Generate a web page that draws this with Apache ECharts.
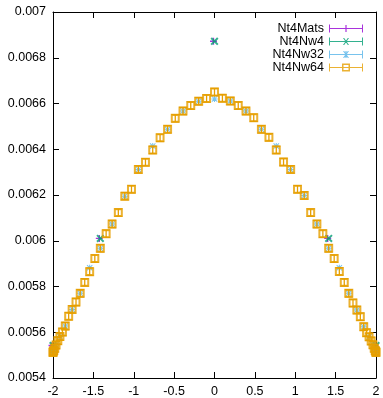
<!DOCTYPE html>
<html>
<head>
<meta charset="utf-8">
<script src="https://cdn.jsdelivr.net/npm/echarts@6/dist/echarts.min.js"></script>
<style>
  html, body { margin: 0; padding: 0; background: #fff; }
  #chart { width: 383px; height: 398px; }
</style>
</head>
<body>
<div id="chart"></div>
<script>
// momentum-like axis, -2 .. 2
const xNw64 = [
  -2.000, -1.998, -1.990, -1.978, -1.962, -1.940, -1.914, -1.883, -1.848, -1.806, -1.763,
  -1.715, -1.663, -1.607, -1.546, -1.482, -1.414, -1.342, -1.268, -1.191, -1.111, -1.028,
  -0.943, -0.855, -0.765, -0.674, -0.581, -0.486, -0.390, -0.294, -0.196, -0.098,
  0,
  0.098, 0.196, 0.294, 0.390, 0.486, 0.581, 0.674, 0.765, 0.855, 0.943, 1.028,
  1.111, 1.191, 1.268, 1.342, 1.414, 1.482, 1.546, 1.607, 1.663, 1.715, 1.763,
  1.806, 1.848, 1.883, 1.914, 1.940, 1.962, 1.978, 1.990, 1.998, 2.000
];
const yNw64 = [
  0.005512, 0.005515, 0.005520, 0.005530, 0.005544, 0.005563, 0.005581, 0.005601, 0.005627, 0.005670, 0.005700,
  0.005732, 0.005770, 0.005818, 0.005865, 0.005922, 0.005967, 0.006031, 0.006073, 0.006123, 0.006195, 0.006225,
  0.006312, 0.006343, 0.006397, 0.006450, 0.006487, 0.006535, 0.006567, 0.006591, 0.006610, 0.006622,
  0.006650,
  0.006623, 0.006611, 0.006591, 0.006567, 0.006538, 0.006487, 0.006452, 0.006397, 0.006344, 0.006312, 0.006225,
  0.006198, 0.006123, 0.006073, 0.006031, 0.005967, 0.005922, 0.005866, 0.005818, 0.005770, 0.005728, 0.005697,
  0.005668, 0.005624, 0.005598, 0.005580, 0.005562, 0.005545, 0.005530, 0.005520, 0.005515, 0.005512
];
const errNw64 = [
  0.000016, 0.000016, 0.000016, 0.000016, 0.000016, 0.000016, 0.000016, 0.000016, 0.000016, 0.000016, 0.000016,
  0.000016, 0.000016, 0.000016, 0.000016, 0.000016, 0.000016, 0.000016, 0.000016, 0.000016, 0.000016, 0.000016,
  0.000016, 0.000016, 0.000016, 0.000016, 0.000016, 0.000016, 0.000016, 0.000016, 0.000016, 0.000016,
  0.000016,
  0.000016, 0.000016, 0.000016, 0.000016, 0.000016, 0.000016, 0.000016, 0.000016, 0.000016, 0.000016, 0.000016,
  0.000016, 0.000016, 0.000016, 0.000016, 0.000016, 0.000016, 0.000016, 0.000016, 0.000016, 0.000016, 0.000016,
  0.000016, 0.000016, 0.000016, 0.000016, 0.000016, 0.000016, 0.000016, 0.000016, 0.000016, 0.000016
];

const xNw32 = [
  -2.000, -1.990, -1.962, -1.914, -1.848, -1.763, -1.663, -1.546, -1.414, -1.268, -1.111,
  -0.943, -0.765, -0.581, -0.390, -0.196, 0, 0.196, 0.390, 0.581, 0.765, 0.943,
  1.111, 1.268, 1.414, 1.546, 1.663, 1.763, 1.848, 1.914, 1.962, 1.990, 2.000
];
const yNw32 = [
  0.005512, 0.005520, 0.005544, 0.005581, 0.005627, 0.005700, 0.005770, 0.005882, 0.005967, 0.006073, 0.006195,
  0.006312, 0.006414, 0.006487, 0.006567, 0.006610, 0.006620, 0.006611, 0.006567, 0.006487, 0.006414, 0.006312,
  0.006198, 0.006073, 0.005967, 0.005882, 0.005770, 0.005697, 0.005624, 0.005580, 0.005545, 0.005520, 0.005512
];

const xNw4 = [-2.000, -1.414, 0, 1.414, 2.000];
const yNw4 = [0.005542, 0.006010, 0.006872, 0.006010, 0.005542];
const xMats = [-2.000, -1.414, 0, 1.414, 2.000];
const yMats = [0.005542, 0.006010, 0.006872, 0.006010, 0.005542];

const xTicks = [-2, -1.5, -1, -0.5, 0, 0.5, 1, 1.5, 2];
const yTicks = [0.0054, 0.0056, 0.0058, 0.006, 0.0062, 0.0064, 0.0066, 0.0068, 0.007];

const colors = {
  mats: "#9400d3",
  nw4: "#009e73",
  nw32: "#56b4e9",
  nw64: "#e69f00",
};

const FONT = "'Liberation Sans', Arial, sans-serif";

const pts = (xs, ys) => xs.map((x, i) => [x, ys[i]]);

// marker shapes
const plusPath = "path://M3 0h1.4v7.4h-1.4z M0 3h7.4v1.4h-7.4z";
const crossPath = "path://M0 1.4L1.4 0L8 6.6L6.6 8Z M6.6 0L8 1.4L1.4 8L0 6.6Z";
const starPath = "path://M3 0h1.2v7.2h-1.2z M0 3h7.2v1.2h-7.2z M0 0.8L0.8 0L7.2 6.4L6.4 7.2Z M6.4 0L7.2 0.8L0.8 7.2L0 6.4Z";
const squarePath = "path://M0 0h8v8h-8z M1.8 1.8v4.4h4.4v-4.4z";

// legend icons: errorbar line with caps and the marker in the middle
const barBase = "M0 0h1v8h-1z M33 0h1v8h-1z M0 3.5h34v1h-34z ";
const legendIcons = {
  Nt4Mats: "path://" + barBase + "M16.4 0.5h1.2v7h-1.2z",
  Nt4Nw4: "path://" + barBase + "M14 0.5L15.2 0.5L20 7.5L18.8 7.5Z M18.8 0.5L20 0.5L15.2 7.5L14 7.5Z",
  Nt4Nw32: "path://" + barBase + "M16.4 0.5h1.2v7h-1.2z M14 0.5L15.2 0.5L20 7.5L18.8 7.5Z M18.8 0.5L20 0.5L15.2 7.5L14 7.5Z",
  Nt4Nw64: "path://" + barBase + "M13 0h8v8h-8z M14.5 1.5v5h5v-5z",
};

const renderErr = (params, api) => {
  const x = api.value(0);
  const top = api.coord([x, api.value(2)]);
  const bot = api.coord([x, api.value(1)]);
  const w = 4;
  const style = { stroke: colors.nw64, lineWidth: 1.3 };
  return {
    type: "group",
    children: [
      { type: "line", shape: { x1: top[0], y1: top[1], x2: bot[0], y2: bot[1] }, style },
      { type: "line", shape: { x1: top[0] - w, y1: top[1], x2: top[0] + w, y2: top[1] }, style },
      { type: "line", shape: { x1: bot[0] - w, y1: bot[1], x2: bot[0] + w, y2: bot[1] }, style },
    ],
  };
};

const axisCommon = {
  type: "value",
  axisLine: { show: true, onZero: false, lineStyle: { color: "#000", width: 1 } },
  axisTick: { show: true, inside: true, length: 6, lineStyle: { color: "#000", width: 1 } },
  splitLine: { show: false },
};

const chart = echarts.init(document.getElementById("chart"), null, { renderer: "canvas" });

chart.setOption({
  animation: false,
  backgroundColor: "#fff",
  textStyle: { fontFamily: FONT },
  grid: { left: 53, right: 7, top: 12, bottom: 19, containLabel: false },
  legend: {
    orient: "vertical",
    align: "right",
    right: 20,
    top: 22,
    padding: 0,
    itemGap: 0,
    itemWidth: 34,
    itemHeight: 8,
    symbolKeepAspect: false,
    selectedMode: false,
    textStyle: { fontFamily: FONT, fontSize: 12.5, color: "#000" },
    data: [
      { name: "Nt4Mats", icon: legendIcons.Nt4Mats, itemStyle: { color: colors.mats, borderWidth: 0 } },
      { name: "Nt4Nw4", icon: legendIcons.Nt4Nw4, itemStyle: { color: colors.nw4, borderWidth: 0 } },
      { name: "Nt4Nw32", icon: legendIcons.Nt4Nw32, itemStyle: { color: colors.nw32, borderWidth: 0 } },
      { name: "Nt4Nw64", icon: legendIcons.Nt4Nw64, itemStyle: { color: colors.nw64, borderWidth: 0 } },
    ],
  },
  xAxis: [
    {
      ...axisCommon,
      position: "bottom",
      min: xTicks[0],
      max: xTicks[xTicks.length - 1],
      interval: 0.5,
      axisLabel: {
        show: true, color: "#000", fontSize: 12.5, fontFamily: FONT, margin: 7,
        formatter: (v) => String(+v.toFixed(2)),
      },
    },
    {
      ...axisCommon,
      position: "top",
      min: xTicks[0],
      max: xTicks[xTicks.length - 1],
      interval: 0.5,
      axisLabel: { show: false },
    },
  ],
  yAxis: [
    {
      ...axisCommon,
      position: "left",
      min: yTicks[0],
      max: yTicks[yTicks.length - 1],
      interval: 0.0002,
      axisLabel: {
        show: true, color: "#000", fontSize: 12.5, fontFamily: FONT, margin: 7,
        formatter: (v) => String(+v.toFixed(4)),
      },
    },
    {
      ...axisCommon,
      position: "right",
      min: yTicks[0],
      max: yTicks[yTicks.length - 1],
      interval: 0.0002,
      axisLabel: { show: false },
    },
  ],
  series: [
    {
      name: "Nt4Mats",
      type: "scatter",
      data: pts(xMats, yMats),
      symbol: plusPath,
      symbolSize: 7,
      symbolOffset: [-1, 0],
      itemStyle: { color: colors.mats },
      clip: false,
      z: 2,
    },
    {
      name: "Nt4Nw4",
      type: "scatter",
      data: pts(xNw4, yNw4),
      symbol: crossPath,
      symbolSize: 8,
      itemStyle: { color: colors.nw4 },
      clip: false,
      z: 3,
    },
    {
      name: "Nt4Nw32",
      type: "scatter",
      data: pts(xNw32, yNw32),
      symbol: starPath,
      symbolSize: 6,
      itemStyle: { color: colors.nw32 },
      clip: false,
      z: 4,
    },
    {
      name: "Nt4Nw64 err",
      type: "custom",
      renderItem: renderErr,
      data: xNw64.map((x, i) => [x, yNw64[i] - errNw64[i], yNw64[i] + errNw64[i]]),
      clip: false,
      z: 5,
    },
    {
      name: "Nt4Nw64",
      type: "scatter",
      data: pts(xNw64, yNw64),
      symbol: squarePath,
      symbolSize: 9,
      itemStyle: { color: colors.nw64 },
      clip: false,
      z: 6,
    },
  ],
});
</script>
</body>
</html>
